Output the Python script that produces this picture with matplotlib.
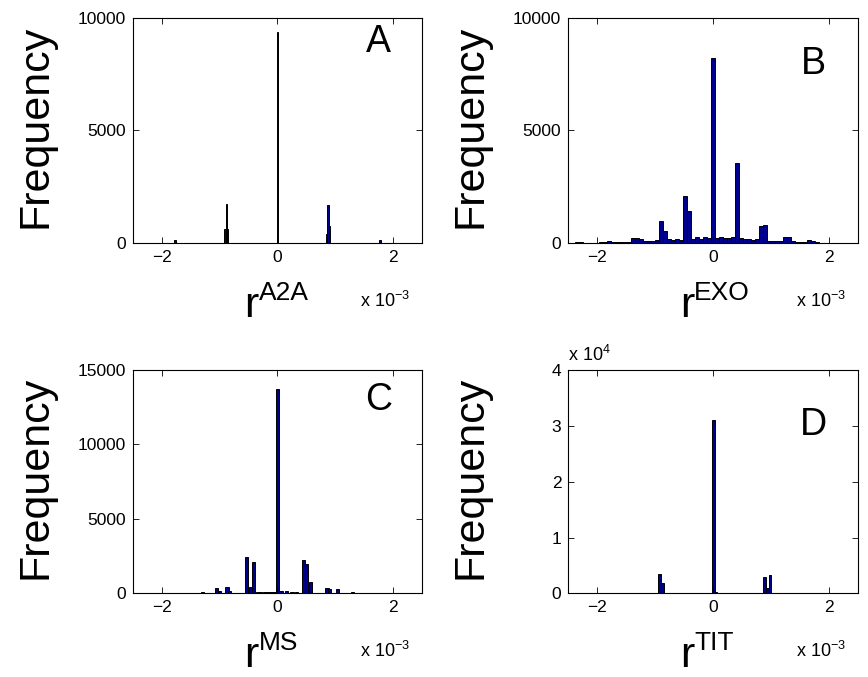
import numpy as np
import matplotlib
matplotlib.use('Agg')
import matplotlib.pyplot as plt

# bar centres in units of 1e-3, counts
A_centers = [-1.77, -0.91, -0.885, -0.86, 0.0, 0.845, 0.87, 0.895, 1.77]
A_counts = [100, 610, 1740, 610, 9390, 400, 1665, 760, 100]
A_width = 0.025

# panel B is a regular histogram: first bin centre, bin width, counts
B_first = -2.346
B_width = 0.069
B_counts = [10, 10, 0, 0, 5, 5, 10, 30, 60, 50, 30, 25, 30, 40,
            225, 195, 150, 60, 60, 70, 100, 985, 520, 150, 120, 180, 135,
            2070, 1400, 180, 240, 165, 270, 225, 8220, 195, 270, 195, 225,
            240, 3570, 195, 165, 150, 135, 150, 730, 770, 75, 60, 75, 60,
            250, 250, 75, 10, 10, 10, 100, 60, 10]

C_centers = [-1.58, -1.30, -1.05, -1.00, -0.875, -0.83, -0.53, -0.47, -0.415,
             -0.35, -0.29, -0.23, -0.17, -0.11, -0.06, 0.0, 0.06, 0.16,
             0.25, 0.33, 0.445, 0.505, 0.565, 0.70, 0.855, 0.90, 1.04, 1.30]
C_counts = [45, 67, 336, 134, 425, 180, 2420, 400, 2080,
            80, 80, 90, 90, 90, 90, 13700, 134, 156,
            70, 70, 2220, 1950, 785, 45, 380, 270, 270, 90]
C_width = 0.058

D_centers = [-0.93, -0.875, 0.0, 0.045, 0.885, 0.935, 0.98]
D_counts = [3400, 1920, 31030, 200, 3000, 1000, 3230]
D_width = 0.045

labels = ['A', 'B', 'C', 'D']
xnames = ['A2A', 'EXO', 'MS', 'TIT']
ylims = [10000, 10000, 15000, 40000]
yticks = [[0, 5000, 10000], [0, 5000, 10000], [0, 5000, 10000, 15000],
          [0, 10000, 20000, 30000, 40000]]

plt.rcParams.update({
    'font.family': ['Liberation Sans', 'DejaVu Sans'],
    'mathtext.fontset': 'custom',
    'mathtext.rm': 'Liberation Sans',
    'mathtext.it': 'Liberation Sans',
    'font.size': 12,
})

BAR_FC = '#00008f'
PX = 0.72  # points per pixel at 100 dpi

fig = plt.figure(figsize=(8.68, 6.77), dpi=100)
rects = [[0.1529, 0.6415, 0.3336, 0.3315], [0.6547, 0.6415, 0.3341, 0.3315],
         [0.1529, 0.1236, 0.3336, 0.3298], [0.6547, 0.1236, 0.3341, 0.3298]]
letter_pos = [(0.847, 0.894), (0.847, 0.795), (0.849, 0.866), (0.847, 0.752)]

B_centers = B_first + B_width * np.arange(len(B_counts))
data = [(A_centers, A_counts, A_width), (B_centers, B_counts, B_width),
        (C_centers, C_counts, C_width), (D_centers, D_counts, D_width)]

for i, (cx, cnt, w) in enumerate(data):
    ax = fig.add_axes(rects[i])
    ax.bar(cx, cnt, width=w, color=BAR_FC, edgecolor='black', linewidth=0.7)
    ax.set_xlim(-2.5, 2.5)
    ax.set_ylim(0, ylims[i])
    ax.set_xticks([-2, 0, 2])
    ax.set_xticklabels(['\u22122', '0', '2'])
    ax.set_yticks(yticks[i])
    if i == 3:
        ax.set_yticklabels([str(v // 10000) for v in yticks[i]])
        ax.text(0.0, 1.039, r'x 10$^{4}$', transform=ax.transAxes,
                ha='left', va='baseline', fontsize=13)
    else:
        ax.set_yticklabels([str(v) for v in yticks[i]])
    ax.tick_params(direction='in', top=True, right=True, length=4,
                   width=0.6, labelsize=12.5, pad=5)
    for s in ax.spines.values():
        s.set_linewidth(0.8)
    ax.set_ylabel('Frequency', fontsize=31)
    ax.yaxis.set_label_coords(-0.268, 0.52)

    # x label: big "r" with a raised name, like the MATLAB TeX label
    ax.annotate('r', xy=(0.5, 0), xycoords='axes fraction',
                xytext=(-19 * PX, -74 * PX), textcoords='offset points',
                ha='right', va='baseline', fontsize=31)
    ax.annotate(xnames[i], xy=(0.5, 0), xycoords='axes fraction',
                xytext=(-19 * PX, -57 * PX), textcoords='offset points',
                ha='left', va='baseline', fontsize=19)

    ax.text(0.785, -0.287, r'x 10$^{\mathrm{-3}}$', transform=ax.transAxes,
            ha='left', va='baseline', fontsize=13)
    ax.text(letter_pos[i][0], letter_pos[i][1], labels[i], transform=ax.transAxes,
            ha='center', va='center', fontsize=27)

fig.savefig('out.png', dpi=100)
